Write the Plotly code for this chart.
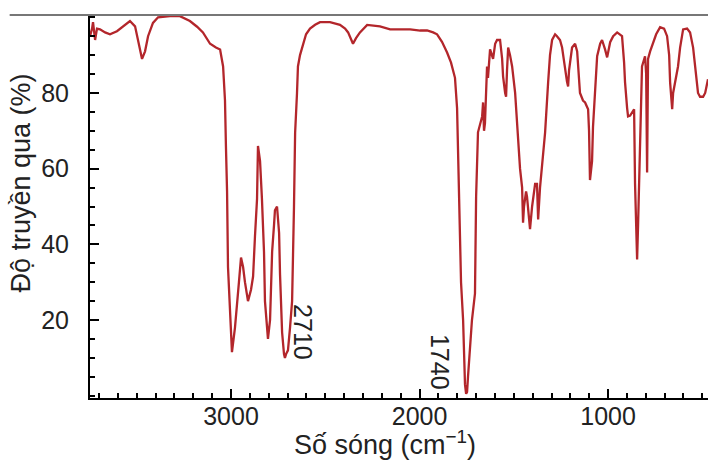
import plotly.graph_objects as go

# IR spectrum
wavenumber = [3748, 3737, 3732, 3721, 3711, 3695, 3668, 3642, 3605, 3562, 3536, 3509, 3488, 3472, 3456, 3440,
              3414, 3387, 3324, 3271, 3218, 3180, 3149, 3111, 3080, 3058, 3042, 3032, 3027, 3021, 3016, 3005,
              2995, 2979, 2968, 2958, 2947, 2936, 2926, 2910, 2894, 2883, 2873, 2862, 2857, 2851, 2846, 2836,
              2825, 2820, 2809, 2804, 2793, 2782, 2772, 2767, 2756, 2745, 2740, 2729, 2719, 2714, 2708, 2698,
              2687, 2676, 2666, 2660, 2650, 2645, 2634, 2618, 2602, 2581, 2554, 2528, 2475, 2422, 2395, 2379,
              2363, 2353, 2337, 2316, 2278, 2236, 2210, 2156, 2103, 2050, 1997, 1960, 1928, 1907, 1881, 1854,
              1833, 1812, 1801, 1796, 1790, 1785, 1780, 1769, 1764, 1759, 1753, 1748, 1743, 1732, 1722, 1706,
              1700, 1690, 1679, 1668, 1663, 1658, 1653, 1647, 1642, 1637, 1626, 1610, 1599, 1589, 1573, 1562,
              1557, 1546, 1541, 1536, 1530, 1520, 1509, 1493, 1477, 1467, 1456, 1451, 1446, 1435, 1430, 1419,
              1414, 1403, 1398, 1387, 1377, 1371, 1361, 1350, 1334, 1318, 1308, 1297, 1281, 1271, 1255, 1244,
              1228, 1218, 1212, 1207, 1191, 1175, 1164, 1159, 1149, 1133, 1122, 1106, 1101, 1096, 1090, 1085,
              1080, 1069, 1058, 1042, 1032, 1016, 1005, 989, 973, 952, 936, 926, 915, 910, 899, 894,
              883, 873, 862, 857, 851, 846, 841, 836, 830, 825, 820, 804, 798, 793, 788, 777,
              761, 745, 724, 703, 687, 676, 671, 660, 655, 645, 629, 618, 602, 581, 565, 549,
              538, 528, 523, 512, 496, 485, 470]
transmittance = [95, 97, 98.7, 94, 97, 96.8, 96, 95.5, 96.3, 98, 99, 97.6, 93, 89, 91, 95,
                 98.5, 100, 100.3, 100.3, 99, 97.5, 96, 93, 92, 91.5, 87, 78, 66, 54, 34, 20,
                 11.5, 18, 23.6, 30, 36.5, 34, 30, 25, 28, 31.5, 42, 52, 66, 64, 62, 52,
                 38, 25, 18, 15, 20, 38, 45, 49, 50, 43, 32, 16.7, 11, 10, 11, 12,
                 18, 25, 50, 69.5, 80, 87, 90, 93, 95.5, 97, 98, 98.7, 98.7, 98, 97, 96,
                 94, 93, 94.5, 96, 98, 97.8, 97.6, 96.8, 96.8, 96.8, 96.5, 96.5, 96, 95.5, 93.5, 90.7,
                 88, 84, 76, 65, 48, 40, 30, 20, 10, 3, 0.5, 1, 5, 12, 20, 27,
                 52.6, 69.6, 72, 73.8, 77.5, 70, 72, 80, 87, 84, 91.5, 89, 93, 94, 94, 89,
                 84.4, 80, 79, 86, 92, 90, 87, 80, 66, 60, 55, 45.7, 50, 54, 52.6, 46,
                 44, 50, 52, 56, 56, 46.6, 55, 60.6, 69.6, 82.8, 90, 94, 95.5, 95, 94, 92,
                 86, 83, 81.7, 86, 92, 93, 91, 88, 80, 78, 77.5, 75.7, 70, 57, 60, 62,
                 71, 80, 89.7, 93, 94, 91.5, 89.4, 93.4, 95, 96, 95.5, 95, 88, 82.8, 76, 73.8,
                 74, 74.9, 75.7, 56, 40, 36, 45, 55, 73, 80, 87, 89.7, 85, 59, 89, 91,
                 93.4, 95.5, 97.4, 97, 95, 90, 82.8, 75.7, 80, 82.8, 87, 92, 96.8, 97, 96, 92,
                 87, 82, 80, 79, 79, 80, 83.6]

peak_labels = ["2710", "1740"]
peak_label_x = [2618, 1891]
peak_label_y = [16.8, 8.9]

x_title = "Số sóng (cm<sup>−1</sup>)"
y_title = "Độ truyền qua (%)"

text_font = "Liberation Sans, Arial, sans-serif"

fig = go.Figure()
fig.add_trace(go.Scatter(x=wavenumber, y=transmittance, mode="lines",
                         line=dict(color="#b3262b", width=2.3), showlegend=False,
                         hoverinfo="skip"))

for t, px, py in zip(peak_labels, peak_label_x, peak_label_y):
    fig.add_annotation(x=px, y=py, text=t, showarrow=False, textangle=90,
                       font=dict(family=text_font, size=25, color="#222"))

fig.add_annotation(xref="paper", yref="paper", x=0.477, y=-0.1175, text=x_title,
                   showarrow=False, yanchor="middle", xanchor="center",
                   font=dict(family=text_font, size=27, color="#222"))
fig.add_annotation(xref="paper", yref="paper", x=-0.111, y=0.561, text=y_title,
                   showarrow=False, textangle=-90, xanchor="center", yanchor="middle",
                   font=dict(family=text_font, size=27, color="#222"))

# top border line of the cropped figure
fig.add_shape(type="line", xref="paper", yref="paper", x0=-0.13, x1=1, y0=1, y1=1,
              line=dict(color="#777", width=2))

axis_font = dict(family=text_font, size=25, color="#222")
fig.update_xaxes(range=[3748, 470], tick0=0, dtick=1000, ticks="inside", ticklen=9,
                 tickwidth=2, tickcolor="black", showline=True, linecolor="black",
                 linewidth=2, showgrid=False, zeroline=False, tickfont=axis_font,
                 ticklabelstandoff=-5,
                 minor=dict(ticks="inside", dtick=100, ticklen=5, tickwidth=1.5,
                            tickcolor="black", showgrid=False))
fig.update_yaxes(range=[-0.6, 100.6], ticks="inside", ticklen=9,
                 tickwidth=2, tickcolor="black", showline=True, linecolor="black",
                 linewidth=2, showgrid=False, zeroline=False, tickfont=axis_font,
                 tickvals=[20, 40, 60, 80], ticklabelstandoff=14,
                 minor=dict(ticks="inside", tick0=0, dtick=5, ticklen=5, tickwidth=1.5,
                            tickcolor="black", showgrid=False))

fig.update_layout(width=708, height=461, margin=dict(l=90, r=0, t=15, b=63, autoexpand=False),
                  plot_bgcolor="white", paper_bgcolor="white")

fig.write_html("out.html", config={"displayModeBar": False},
               post_script="document.body.style.margin='0';")
